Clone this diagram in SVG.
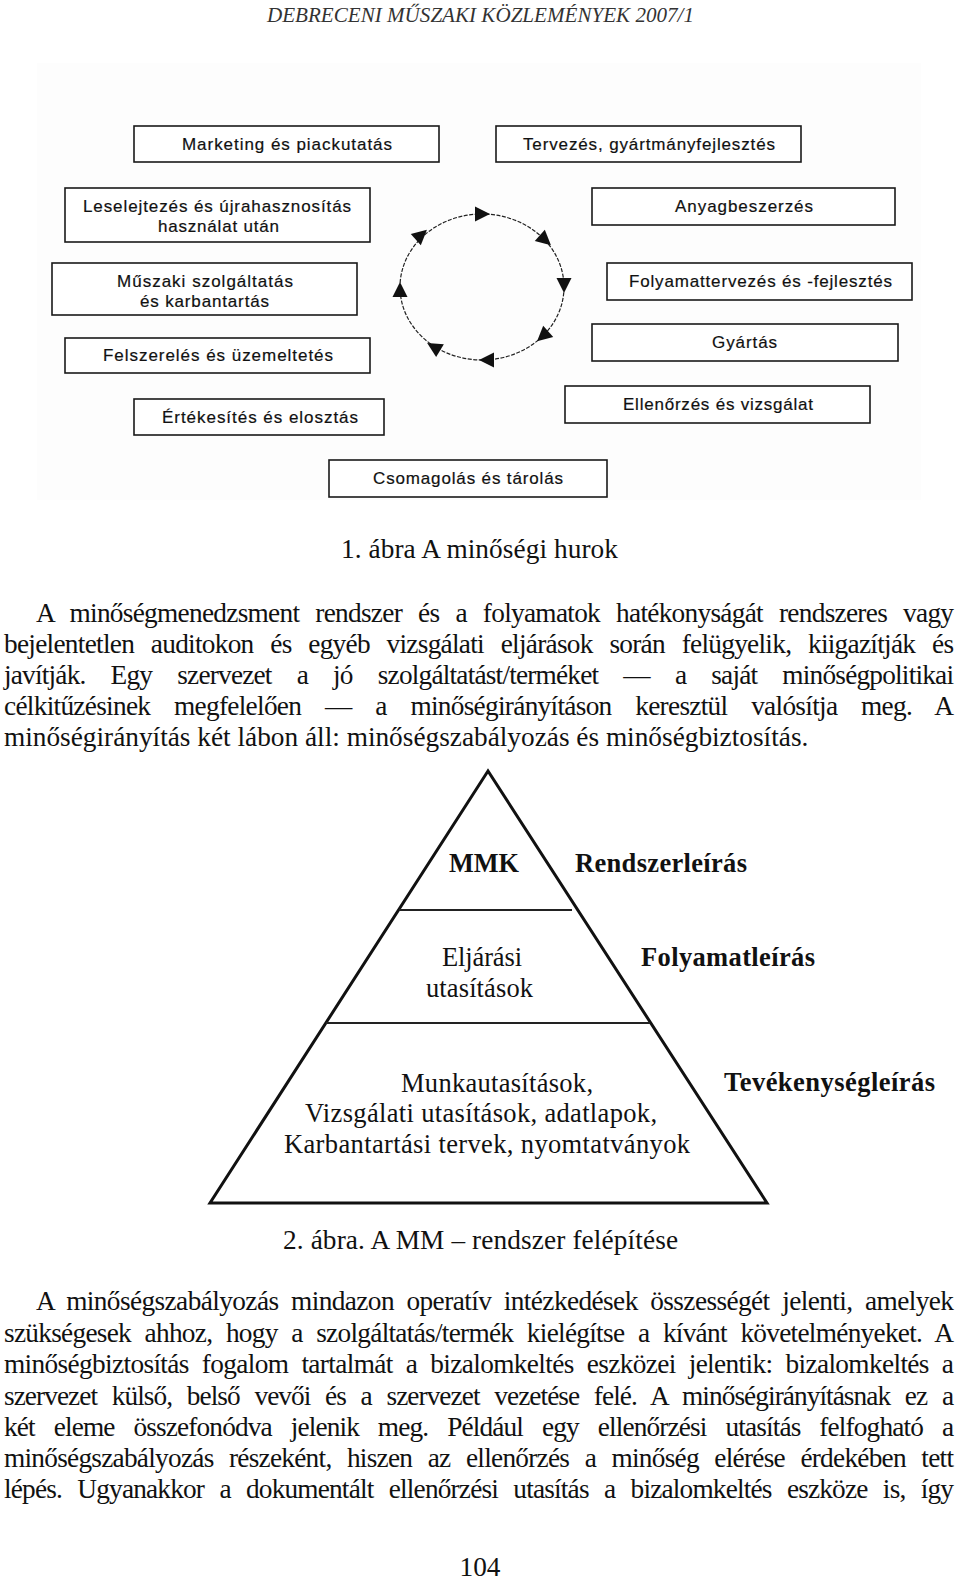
<svg xmlns="http://www.w3.org/2000/svg" width="960" height="1581" viewBox="0 0 960 1581">
<style>
.box{fill:#fff;stroke:#1a1a1a;stroke-width:1.6}
.lbl{font-family:"Liberation Sans",Arial,sans-serif;font-size:17px;fill:#111;stroke:#111;stroke-width:0.2}
.body{font-family:"Liberation Serif","Times New Roman",serif;font-size:27.3px;fill:#111}
.pyr{font-family:"Liberation Serif","Times New Roman",serif;font-size:26.5px;fill:#111}
.b{font-weight:bold}
.loop{fill:none;stroke:#222;stroke-width:1.2;stroke-dasharray:4 1.5}
.ah{fill:#111}
.tri{fill:none;stroke:#111;stroke-width:3;stroke-linejoin:miter}
.sep{stroke:#222;stroke-width:2}
</style>
<defs>
<polygon id="ah" points="8,0 -7,-7.5 -7,7.5"/>
</defs>
<rect width="960" height="1581" fill="#fff"/>
<text x="267" y="22" font-family="'Liberation Serif',serif" font-style="italic" font-size="22" fill="#333" textLength="427" lengthAdjust="spacingAndGlyphs">DEBRECENI MŰSZAKI KÖZLEMÉNYEK 2007/1</text>
<rect x="37" y="63" width="884" height="437" fill="#fdfdfd"/>

<g id="n-marketing"><rect class="box" x="134" y="126" width="305" height="36"/><text class="lbl" x="182" y="150" textLength="210" lengthAdjust="spacing">Marketing és piackutatás</text></g>
<g id="n-tervezes"><rect class="box" x="496" y="126" width="305" height="36"/><text class="lbl" x="523" y="150" textLength="252" lengthAdjust="spacing">Tervezés, gyártmányfejlesztés</text></g>
<g id="n-leselejtezes"><rect class="box" x="65" y="188" width="305" height="54"/><text class="lbl" x="83" y="212" textLength="268" lengthAdjust="spacing">Leselejtezés és újrahasznosítás</text><text class="lbl" x="158" y="232" textLength="121" lengthAdjust="spacing">használat után</text></g>
<g id="n-anyag"><rect class="box" x="592" y="188" width="303" height="37"/><text class="lbl" x="675" y="212" textLength="138" lengthAdjust="spacing">Anyagbeszerzés</text></g>
<g id="n-muszaki"><rect class="box" x="52" y="263" width="305" height="52"/><text class="lbl" x="117" y="287" textLength="176" lengthAdjust="spacing">Műszaki szolgáltatás</text><text class="lbl" x="140" y="307" textLength="129" lengthAdjust="spacing">és karbantartás</text></g>
<g id="n-folyamat"><rect class="box" x="607" y="263" width="305" height="37"/><text class="lbl" x="629" y="287" textLength="263" lengthAdjust="spacing">Folyamattervezés és -fejlesztés</text></g>
<g id="n-gyartas"><rect class="box" x="592" y="324" width="306" height="37"/><text class="lbl" x="712" y="348" textLength="65" lengthAdjust="spacing">Gyártás</text></g>
<g id="n-felszereles"><rect class="box" x="65" y="338" width="305" height="35"/><text class="lbl" x="103" y="361" textLength="230" lengthAdjust="spacing">Felszerelés és üzemeltetés</text></g>
<g id="n-ellenorzes"><rect class="box" x="565" y="386" width="305" height="37"/><text class="lbl" x="623" y="410" textLength="190" lengthAdjust="spacing">Ellenőrzés és vizsgálat</text></g>
<g id="n-ertekesites"><rect class="box" x="134" y="399" width="250" height="36"/><text class="lbl" x="162" y="423" textLength="196" lengthAdjust="spacing">Értékesítés és elosztás</text></g>
<g id="n-csomagolas"><rect class="box" x="329" y="460" width="278" height="37"/><text class="lbl" x="373" y="484" textLength="190" lengthAdjust="spacing">Csomagolás és tárolás</text></g>

<g id="connectors">
<ellipse class="loop" cx="482" cy="287" rx="82" ry="73"/>
<use href="#ah" class="ah" transform="translate(482,214) rotate(0)"/>
<use href="#ah" class="ah" transform="translate(545,240) rotate(42)"/>
<use href="#ah" class="ah" transform="translate(564,285) rotate(90)"/>
<use href="#ah" class="ah" transform="translate(543,336) rotate(138)"/>
<use href="#ah" class="ah" transform="translate(487,360) rotate(180)"/>
<use href="#ah" class="ah" transform="translate(434,347) rotate(211)"/>
<use href="#ah" class="ah" transform="translate(400,290) rotate(270)"/>
<use href="#ah" class="ah" transform="translate(421,235) rotate(318)"/>
</g>

<text class="body" x="341" y="558" textLength="277" lengthAdjust="spacing">1. ábra A minőségi hurok</text>

<g id="para1" class="body">
<text x="36" y="622" word-spacing="9.9" textLength="918" lengthAdjust="spacing">A minőségmenedzsment rendszer és a folyamatok hatékonyságát rendszeres vagy</text>
<text x="4" y="653" word-spacing="10.6" textLength="950" lengthAdjust="spacing">bejelentetlen auditokon és egyéb vizsgálati eljárások során felügyelik, kiigazítják és</text>
<text x="4" y="684" word-spacing="19" textLength="950" lengthAdjust="spacing">javítják. Egy szervezet a jó szolgáltatást/terméket — a saját minőségpolitikai</text>
<text x="4" y="715" word-spacing="17.6" textLength="950" lengthAdjust="spacing">célkitűzésinek megfelelően — a minőségirányításon keresztül valósítja meg. A</text>
<text x="4" y="746">minőségirányítás két lábon áll: minőségszabályozás és minőségbiztosítás.</text>
</g>

<g id="pyramid">
<polygon class="tri" points="488,771 210,1203 767,1203"/>
<line class="sep" x1="399" y1="910" x2="572" y2="910"/>
<line class="sep" x1="326" y1="1023" x2="650" y2="1023"/>
</g>
<g id="lvl-mmk"><text class="pyr b" x="449" y="872" textLength="70" lengthAdjust="spacingAndGlyphs">MMK</text><text class="pyr b" x="575" y="872" textLength="172" lengthAdjust="spacing">Rendszerleírás</text></g>
<g id="lvl-eljaras"><text class="pyr" x="442" y="966" textLength="80" lengthAdjust="spacing">Eljárási</text><text class="pyr" x="426" y="997" textLength="107" lengthAdjust="spacing">utasítások</text><text class="pyr b" x="641" y="966" textLength="174" lengthAdjust="spacing">Folyamatleírás</text></g>
<g id="lvl-munka"><text class="pyr" x="401" y="1092" textLength="192" lengthAdjust="spacing">Munkautasítások,</text><text class="pyr" x="305" y="1122" textLength="352" lengthAdjust="spacing">Vizsgálati utasítások, adatlapok,</text><text class="pyr" x="284" y="1153" textLength="406" lengthAdjust="spacing">Karbantartási tervek, nyomtatványok</text><text class="pyr b" x="724" y="1091" textLength="211" lengthAdjust="spacing">Tevékenységleírás</text></g>

<text class="body" x="283" y="1249" textLength="395" lengthAdjust="spacing">2. ábra. A MM – rendszer felépítése</text>

<g id="para2" class="body">
<text x="36" y="1310" word-spacing="6.3" textLength="918" lengthAdjust="spacing">A minőségszabályozás mindazon operatív intézkedések összességét jelenti, amelyek</text>
<text x="4" y="1341.5" word-spacing="7.5" textLength="950" lengthAdjust="spacing">szükségesek ahhoz, hogy a szolgáltatás/termék kielégítse a kívánt követelményeket. A</text>
<text x="4" y="1373" word-spacing="6.9" textLength="950" lengthAdjust="spacing">minőségbiztosítás fogalom tartalmát a bizalomkeltés eszközei jelentik: bizalomkeltés a</text>
<text x="4" y="1404.5" word-spacing="8.8" textLength="950" lengthAdjust="spacing">szervezet külső, belső vevői és a szervezet vezetése felé. A minőségirányításnak ez a</text>
<text x="4" y="1436" word-spacing="12.9" textLength="950" lengthAdjust="spacing">két eleme összefonódva jelenik meg. Például egy ellenőrzési utasítás felfogható a</text>
<text x="4" y="1467" word-spacing="9.4" textLength="950" lengthAdjust="spacing">minőségszabályozás részeként, hiszen az ellenőrzés a minőség elérése érdekében tett</text>
<text x="4" y="1498" word-spacing="9.3" textLength="950" lengthAdjust="spacing">lépés. Ugyanakkor a dokumentált ellenőrzési utasítás a bizalomkeltés eszköze is, így</text>
</g>

<text class="body" x="480" y="1576" text-anchor="middle">104</text>
</svg>
